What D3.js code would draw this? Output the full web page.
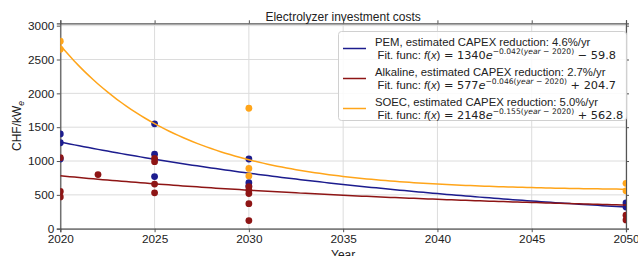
<!DOCTYPE html>
<html>
<head>
<meta charset="utf-8">
<script src="https://cdn.jsdelivr.net/npm/d3@7"></script>
<style>
  body { margin: 0; background: #fff; }
  svg { display: block; font-family: "Liberation Sans", Arial, sans-serif; }
</style>
</head>
<body>
<svg width="638" height="256"></svg>
<script>
"use strict";

// Data.

var SeriesNames = ["PEM", "Alkaline", "SOEC"];
var Reductions = ["4.6", "2.7", "5.0"];

// Fit parameters as printed in the legend: a*exp(-b*(year-2020)) + c
var FitA = [1340, 577, 2148];
var FitB = [0.042, 0.046, 0.155];
var FitC = [-59.8, 204.7, 562.8];

var PemYears = [2020, 2020, 2020, 2025, 2025, 2025, 2030, 2030, 2030, 2050, 2050];
var PemCost  = [1400, 1270, 1030, 1550, 1100, 770, 1030, 680, 630, 380, 320];

var AlkYears = [2020, 2020, 2020, 2022, 2025, 2025, 2025, 2025, 2030, 2030, 2030, 2030, 2030, 2050, 2050];
var AlkCost  = [1050, 550, 470, 800, 1040, 990, 660, 530, 620, 570, 520, 370, 120, 200, 130];

var SoecYears = [2020, 2020, 2030, 2030, 2030, 2050, 2050];
var SoecCost  = [2770, 2650, 1780, 890, 780, 670, 560];

var XTicks = [2020, 2025, 2030, 2035, 2040, 2045, 2050];
var YTicks = [0, 500, 1000, 1500, 2000, 2500, 3000];

// Styles.

var Colors = ["#1c1c8e", "#8e1515", "#ffa51a"];
var GridColor = "#dcdcdc";
var SpineColor = "#555";
var DotRadius = 3.4;

var svg = d3.select("svg");

var x = d3.scaleLinear().domain([2020, 2050]).range([60.3, 626]);
var y = d3.scaleLinear().domain([0, 3035]).range([228.7, 23.3]);

var x0 = x.range()[0], x1 = x.range()[1];
var y0 = y.range()[0], y1 = y.range()[1];

svg.append("defs").append("clipPath").attr("id", "plot")
  .append("rect")
    .attr("x", x0).attr("y", y1)
    .attr("width", x1 - x0).attr("height", y0 - y1);

// Grid.

svg.append("g").selectAll("line").data(XTicks).enter().append("line")
    .attr("x1", function(d){ return x(d); })
    .attr("x2", function(d){ return x(d); })
    .attr("y1", y1).attr("y2", y0)
    .style("stroke", GridColor).style("stroke-width", 1);

svg.append("g").selectAll("line").data(YTicks).enter().append("line")
    .attr("x1", x0).attr("x2", x1)
    .attr("y1", function(d){ return y(d); })
    .attr("y2", function(d){ return y(d); })
    .style("stroke", GridColor).style("stroke-width", 1);

// Axes.

svg.append("g")
    .attr("transform", "translate(0," + y0 + ")")
    .call(d3.axisBottom(x).tickValues(XTicks).tickFormat(d3.format("d")).tickSizeOuter(0).tickSize(3.5).tickPadding(2));

svg.append("g")
    .attr("transform", "translate(" + x0 + ",0)")
    .call(d3.axisLeft(y).tickValues(YTicks).tickFormat(d3.format("d")).tickSizeOuter(0).tickSize(3.5).tickPadding(2.5));

svg.append("g")
    .attr("transform", "translate(0," + y1 + ")")
    .call(d3.axisTop(x).tickValues(XTicks).tickFormat("").tickSizeOuter(0).tickSize(3));

svg.append("g")
    .attr("transform", "translate(" + x1 + ",0)")
    .call(d3.axisRight(y).tickValues(YTicks).tickFormat("").tickSizeOuter(0).tickSize(3));

svg.selectAll(".domain").style("stroke", SpineColor).style("stroke-width", 1.2);
svg.selectAll(".tick line").style("stroke", SpineColor);
svg.selectAll(".tick text")
    .style("font-family", "Liberation Sans, Arial, sans-serif")
    .style("font-size", "11.8px")
    .style("fill", "#222");

// Series: dots then fitted curve, drawn in order.

var points = [
  d3.zip(PemYears, PemCost),
  d3.zip(AlkYears, AlkCost),
  d3.zip(SoecYears, SoecCost)
];

var plot = svg.append("g").attr("clip-path", "url(#plot)");

var curveYears = d3.range(2020, 2050.01, 0.25);

var line = d3.line()
    .x(function(d){ return x(d[0]); })
    .y(function(d){ return y(d[1]); });

SeriesNames.forEach(function(name, i){
    plot.append("g").selectAll("circle").data(points[i]).enter().append("circle")
        .attr("cx", function(d){ return x(d[0]); })
        .attr("cy", function(d){ return y(d[1]); })
        .attr("r", DotRadius)
        .attr("fill", Colors[i]);

    var fit = curveYears.map(function(t){
        return [t, FitA[i] * Math.exp(-FitB[i] * (t - 2020)) + FitC[i]];
    });

    plot.append("path")
        .datum(fit)
        .attr("d", line)
        .attr("fill", "none")
        .style("stroke", Colors[i])
        .style("stroke-width", 1.5);
});

// Titles.

svg.append("text")
    .attr("x", (x0 + x1) / 2).attr("y", 21)
    .attr("text-anchor", "middle")
    .style("font-size", "12px").style("fill", "#222")
    .text("Electrolyzer investment costs");

svg.append("text")
    .attr("x", (x0 + x1) / 2).attr("y", 259)
    .attr("text-anchor", "middle")
    .style("font-size", "12px").style("fill", "#222")
    .text("Year");

var ylab = svg.append("text")
    .attr("transform", "translate(21," + ((y0 + y1) / 2) + ") rotate(-90)")
    .attr("text-anchor", "middle")
    .style("font-size", "12px").style("fill", "#222");
ylab.append("tspan").text("CHF/kW");
ylab.append("tspan").attr("dy", 3).style("font-size", "8.5px").style("font-style", "italic").text("e");

// Legend.

var legend = svg.append("g");

legend.append("rect")
    .attr("x", 338.5).attr("y", 31.5)
    .attr("width", 288).attr("height", 89)
    .attr("rx", 3)
    .attr("fill", "#fff").attr("fill-opacity", 0.85)
    .style("stroke", "#d0d0d0");

var Math_ = "DejaVu Sans, sans-serif";

SeriesNames.forEach(function(name, i){
    var top = 45.5 + i * 30;

    legend.append("line")
        .attr("x1", 343).attr("x2", 366)
        .attr("y1", top + 3).attr("y2", top + 3)
        .style("stroke", Colors[i]).style("stroke-width", 1.5);

    legend.append("text")
        .attr("x", 375).attr("y", top)
        .style("font-size", "11.3px").style("fill", "#222")
        .text(name + ", estimated CAPEX reduction: " + Reductions[i] + "%/yr");

    var t = legend.append("text")
        .attr("x", 377.5).attr("y", top + 13.5)
        .style("font-size", "11.3px").style("fill", "#222");
    t.append("tspan").text("Fit. func: ");
    t.append("tspan").style("font-style", "italic").text("f");
    t.append("tspan").text("(");
    t.append("tspan").style("font-style", "italic").text("x");
    t.append("tspan").text(")");
    t.append("tspan").style("font-family", Math_).text(" = " + FitA[i]);
    t.append("tspan").style("font-family", Math_).style("font-style", "italic").text("e");
    t.append("tspan").attr("dy", -5).style("font-family", Math_).style("font-size", "7.6px")
        .text("\u2212" + FitB[i].toFixed(3) + "(");
    t.append("tspan").style("font-family", Math_).style("font-size", "7.6px").style("font-style", "italic").text("year");
    t.append("tspan").style("font-family", Math_).style("font-size", "7.6px").text(" \u2212 2020)");
    var c = FitC[i];
    t.append("tspan").attr("dy", 5).style("font-family", Math_)
        .text((c < 0 ? " \u2212 " : " + ") + Math.abs(c).toFixed(1));
});
</script>
</body>
</html>
